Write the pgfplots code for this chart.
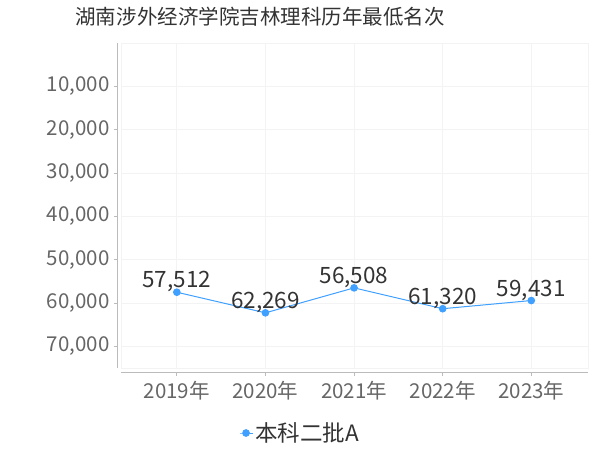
\documentclass[border=0pt]{standalone}
\usepackage{fontspec}
\setmainfont{Noto Sans CJK SC}
\usepackage{pgfplots}
\pgfplotsset{compat=1.18}
\definecolor{linecol}{HTML}{3FA0FF}
\definecolor{gridcol}{HTML}{F3F3F3}
\definecolor{axiscol}{HTML}{BBBBBB}
\definecolor{ticklab}{HTML}{666666}
\definecolor{titlecol}{HTML}{333333}
\begin{document}
\begin{tikzpicture}[x=1bp,y=1bp]
\path[use as bounding box] (0,0) rectangle (600,450);
\node[anchor=base, text=titlecol, font=\fontsize{20.5bp}{24bp}\selectfont] at (260,425) {湖南涉外经济学院吉林理科历年最低名次};
\begin{axis}[
	at={(121bp,82bp)}, anchor=south west,
	scale only axis, width=467bp, height=325bp,
	xmin=-0.63, xmax=4.64, ymin=0, ymax=75000,
	y dir=reverse,
	axis x line*=bottom, axis y line*=left,
	axis x line shift=4bp, axis y line shift=3.5bp,
	axis line style={axiscol, line width=0.8bp},
	xtick={0,...,4},
	xticklabels={2019年,2020年,2021年,2022年,2023年},
	ytick={10000,20000,...,70000},
	scaled y ticks=false,
	tick style={axiscol, line width=0.8bp},
	major tick length=3.5bp,
	tick align=outside,
	grid=major,
	major grid style={gridcol, line width=0.8bp},
	/pgf/number format/assume math mode=true,
	/pgf/number format/.cd, fixed, 1000 sep={,}, /pgfplots/.cd,
	yticklabel style={text=ticklab, font=\fontsize{20.5bp}{24bp}\selectfont, xshift=-1bp},
	xticklabel style={text=ticklab, font=\fontsize{20.5bp}{24bp}\selectfont, yshift=-2bp},
	legend style={at={(0.383,-0.2)}, anchor=center, draw=none, fill=none,
		font=\fontsize{22.5bp}{26bp}\selectfont, text=titlecol,
		inner sep=0pt, cells={anchor=west}},
	legend image code/.code={\draw[mark repeat=2,mark phase=2,#1] plot coordinates {(0bp,0bp) (6.5bp,0bp) (13bp,0bp)};},
	clip=false,
]
\draw[gridcol, line width=0.8bp] (rel axis cs:0,0) rectangle (rel axis cs:1,1);
\addplot[linecol, line width=1bp, mark=*, mark size=3.3bp, mark options={fill=linecol, draw=linecol},
	nodes near coords,
	every node near coord/.append style={anchor=base, yshift=4.5bp, text=titlecol,
		font=\fontsize{22.5bp}{26bp}\selectfont,
		/pgf/number format/.cd, fixed, 1000 sep={,}, assume math mode=true}]
	coordinates {(0,57512) (1,62269) (2,56508) (3,61320) (4,59431)};
\addlegendentry{本科二批A}
\end{axis}
\end{tikzpicture}
\end{document}
